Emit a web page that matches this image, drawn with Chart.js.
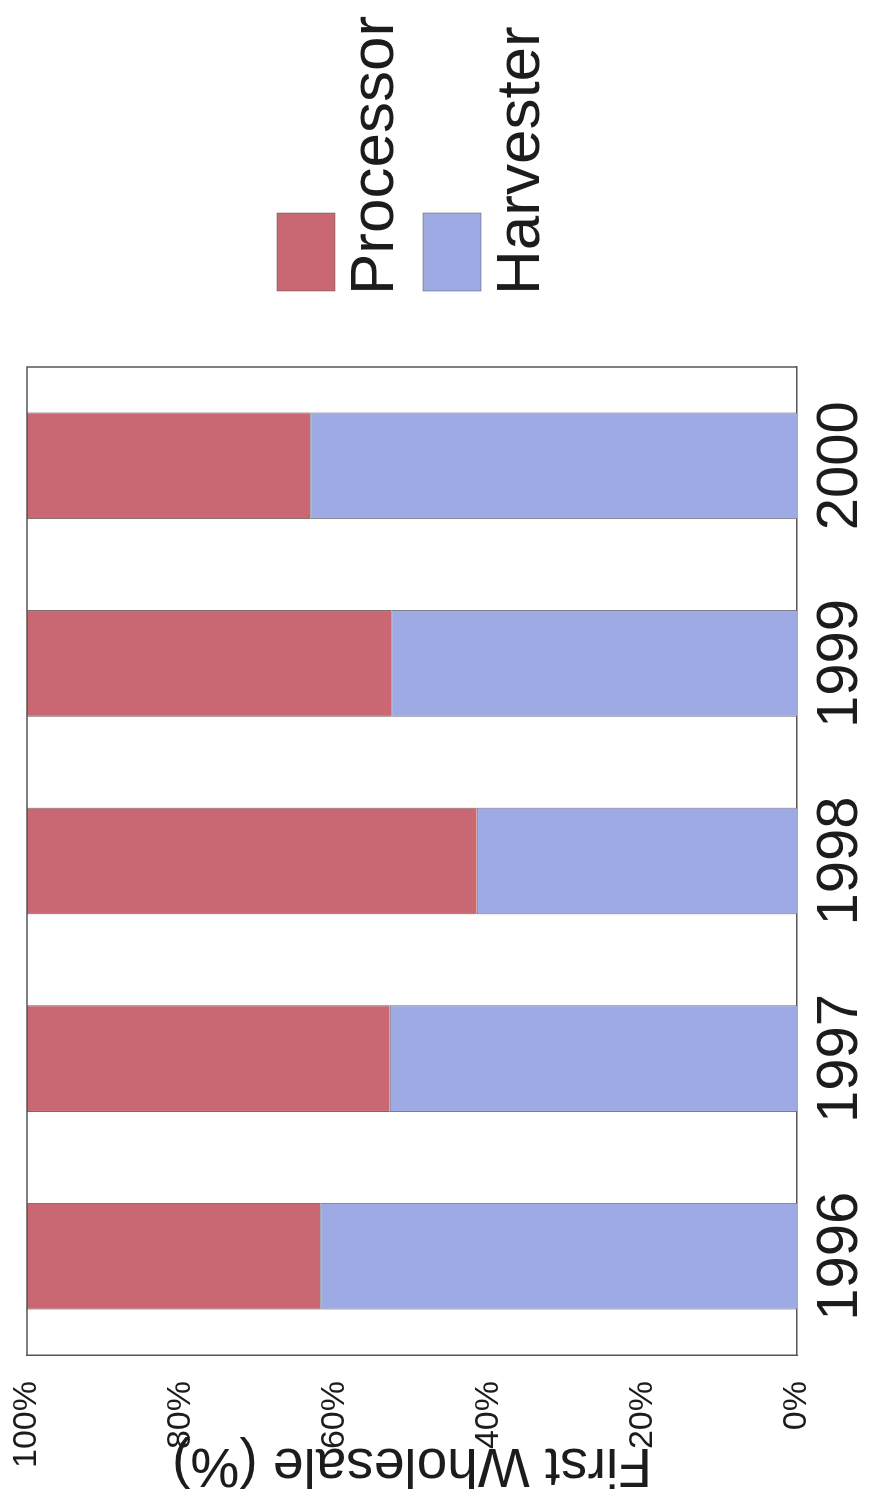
<!DOCTYPE html>
<html>
<head>
<meta charset="utf-8">
<title>First Wholesale share</title>
<script src="https://cdn.jsdelivr.net/npm/chart.js"></script>
<style>
	html, body {
		margin: 0;
		padding: 0;
		background: #fff;
		overflow: hidden;
	}
	/* the chart is drawn upright, then turned a quarter left like the scan */
	.turned {
		position: absolute;
		left: 0;
		top: 0;
		width: 1495px;
		height: 874px;
		transform-origin: 0 0;
		transform: translate(0, 1495px) rotate(-90deg);
	}
</style>
</head>
<body>
<div class="turned">
	<canvas id="shareChart" width="1495" height="874"></canvas>
</div>

<script>
// data
const years = ['1996', '1997', '1998', '1999', '2000'];
const harvesterShare = [61.9, 52.9, 41.6, 52.7, 63.2];
const processorShare = [38.1, 47.1, 58.4, 47.3, 36.8];
const shareTicks = [0, 20, 40, 60, 80, 100];

const FONT = 'Arial, "Liberation Sans", sans-serif';
const INK = '#1c1c1c';

document.addEventListener("DOMContentLoaded", () => {
	initShareChart();
});

// top and right edge of the plot box
const plotFrame = {
	id: 'plotFrame',
	beforeDatasetsDraw(chart) {
		const { ctx, chartArea } = chart;
		ctx.save();
		ctx.strokeStyle = '#555';
		ctx.lineWidth = 1.5;
		ctx.beginPath();
		ctx.moveTo(chartArea.left, chartArea.top);
		ctx.lineTo(chartArea.right, chartArea.top);
		ctx.lineTo(chartArea.right, chartArea.bottom);
		ctx.stroke();
		ctx.restore();
	}
};

// legend: swatch above its label, Processor first
const sideLegend = {
	id: 'sideLegend',
	afterDraw(chart) {
		const { ctx, chartArea } = chart;
		const items = chart.data.datasets.slice().reverse();
		ctx.save();
		ctx.font = '62px ' + FONT;
		ctx.textBaseline = 'alphabetic';
		ctx.textAlign = 'left';
		items.forEach((ds, i) => {
			const x = chartArea.right + 76;
			const top = chartArea.top + 250 + i * 146;
			ctx.fillStyle = ds.backgroundColor;
			ctx.fillRect(x, top, 78, 58);
			ctx.strokeStyle = 'rgba(90, 90, 90, 0.5)';
			ctx.lineWidth = 1;
			ctx.strokeRect(x, top, 78, 58);
			ctx.fillStyle = INK;
			ctx.fillText(ds.label, x - 4, top + 116);
		});
		ctx.restore();
	}
};

function initShareChart() {
	const ctx = document.getElementById("shareChart");

	if (!ctx) return;

	new Chart(ctx, {
		type: 'bar',
		data: {
			labels: years,
			datasets: [
				{
					label: 'Harvester',
					data: harvesterShare,
					backgroundColor: '#9eaae3',
					borderColor: '#6f6f7a',
					borderWidth: 1,
					categoryPercentage: 0.6,
					barPercentage: 0.9
				},
				{
					label: 'Processor',
					data: processorShare,
					backgroundColor: '#c96872',
					borderColor: '#6f5a5a',
					borderWidth: 1,
					categoryPercentage: 0.6,
					barPercentage: 0.9
				}
			]
		},
		options: {
			responsive: false,
			animation: false,
			layout: {
				padding: { top: 27, right: 367, bottom: 0, left: 0 }
			},
			plugins: {
				legend: { display: false },
				tooltip: { enabled: false }
			},
			scales: {
				x: {
					stacked: true,
					grid: { display: false, drawTicks: false },
					border: { display: true, color: '#555', width: 1.5 },
					ticks: {
						color: INK,
						padding: 9,
						maxRotation: 0,
						font: { family: FONT, size: 58 }
					},
					afterFit: scale => { scale.height = 77; }
				},
				y: {
					stacked: true,
					min: 0,
					max: 100,
					afterBuildTicks: scale => {
						scale.ticks = shareTicks.map(v => ({ value: v }));
					},
					// tick marks hidden, but their length keeps the labels off the axis
					grid: { display: false, drawTicks: true, tickLength: 26 },
					border: { display: true, color: '#555', width: 1.5 },
					ticks: {
						color: INK,
						padding: 0,
						font: { family: FONT, size: 34 },
						callback: value => value + '%'
					},
					title: {
						display: true,
						text: 'First Wholesale (%)',
						color: INK,
						padding: { top: 3, bottom: 0 },
						font: { family: FONT, size: 55, lineHeight: 1 }
					},
					afterFit: scale => { scale.width = 140; }
				}
			}
		},
		plugins: [plotFrame, sideLegend]
	});
}
</script>
</body>
</html>
